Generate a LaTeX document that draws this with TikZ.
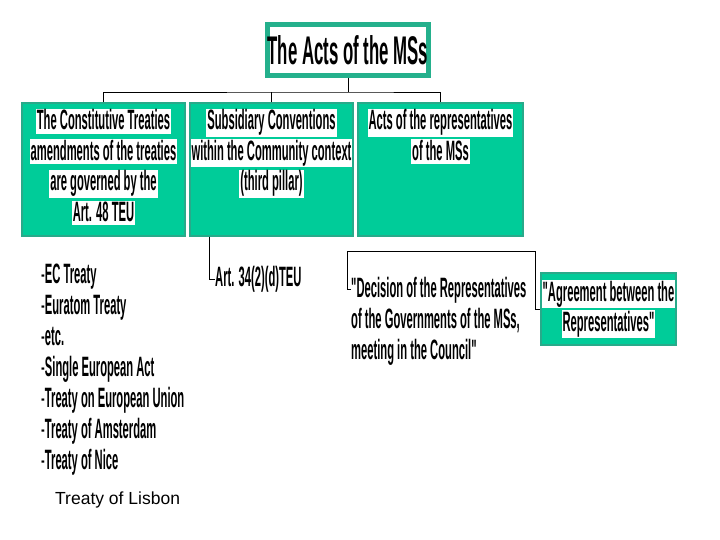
\documentclass[tikz,border=0pt]{standalone}
\usepackage{fontspec}
\setmainfont{Liberation Sans}
\newfontfamily\narrowfont[FakeStretch=0.40]{Liberation Sans}
\newfontfamily\titlefont[FakeStretch=0.42]{Liberation Sans}
\usepackage{tikz}

\definecolor{msgreen}{RGB}{0,204,153}
\definecolor{msedge}{RGB}{40,170,138}
\definecolor{mstitle}{RGB}{36,176,140}

\setlength{\fboxsep}{1pt}
\newcommand{\hl}[1]{\colorbox{white}{\rule[-3pt]{0pt}{21.5pt}#1}}
\newcommand{\itemdash}{{\mdseries -}}

\tikzset{
	pillar/.style={draw=msedge, line width=1.2pt, fill=msgreen, minimum width=163pt, minimum height=133pt, inner sep=0pt},
	boxtext/.style={anchor=north, align=center, inner sep=0pt, font=\narrowfont\bfseries\fontsize{28}{30.5}\selectfont},
	plain/.style={align=left, inner sep=0pt, font=\narrowfont\bfseries\fontsize{28}{31}\selectfont},
	link/.style={draw=black, line width=0.8pt},
}

\begin{document}
\begin{tikzpicture}[x=1pt,y=-1pt]
\useasboundingbox (0,0) rectangle (720,540);

% top
\node[draw=mstitle, line width=5pt, fill=white, minimum width=161pt, minimum height=51pt, inner sep=0pt, font=\titlefont\bfseries\fontsize{40}{44}\selectfont] (title) at (348,50) {The Acts of the MSs};

% the three pillars
\node[pillar] (constit) at (103.5,169.5) {};
\node[pillar] (subsid) at (271.5,169.5) {};
\node[pillar, minimum width=165pt] (acts) at (440.5,169.5) {};

\node[boxtext] (constittext) at ([yshift=-6pt]constit.north) {\hl{The Constitutive Treaties}\\ \hl{amendments of the treaties}\\ \hl{are governed by the}\\ \hl{Art. 48 TEU}};
\node[boxtext] (subsidtext) at ([yshift=-6pt]subsid.north) {\hl{Subsidiary Conventions}\\ \hl{within the Community context}\\ \hl{(third pillar)}};
\node[boxtext] (actstext) at ([yshift=-6pt]acts.north) {\hl{Acts of the representatives}\\ \hl{of the MSs}};

\coordinate (bus) at (348,92);
\draw[link] (title.south) -- (title.south |- bus);
\draw[link] (constit.north) |- (bus) -| (acts.north);
\draw[link] (subsid.north) -- (subsid.north |- bus);

% below the pillars
\node[plain, anchor=north west] (treaties) at (41,264) {\itemdash EC Treaty\\ \itemdash Euratom Treaty\\ \itemdash etc.\\ \itemdash Single European Act\\ \itemdash Treaty on European Union\\ \itemdash Treaty of Amsterdam\\ \itemdash Treaty of Nice};
\node[anchor=west, inner sep=0pt, font=\fontsize{17.5}{20}\selectfont] (lisbon) at (55,500) {Treaty of Lisbon};

\node[plain, anchor=west] (art) at (215,279) {Art. 34(2)(d)TEU};
\draw[link] ([xshift=20pt]subsid.south west) |- (art.west);

\node[plain, anchor=north west] (decision) at (351,277) {"Decision of the Representatives\\ of the Governments of the MSs,\\ meeting in the Council"};
\node[draw=msedge, line width=1.2pt, fill=msgreen, minimum width=135pt, minimum height=72pt, inner sep=0pt, align=center, font=\narrowfont\bfseries\fontsize{28}{30}\selectfont] (agree) at (608.5,309) {\hl{"Agreement between the}\\ \hl{Representatives"}};

\coordinate (ltop) at (347,251);
\coordinate (rtop) at (535,251);
\draw[link] ([yshift=-12pt]decision.north west) -| (ltop) -- (rtop) |- (agree.west);

\end{tikzpicture}
\end{document}
